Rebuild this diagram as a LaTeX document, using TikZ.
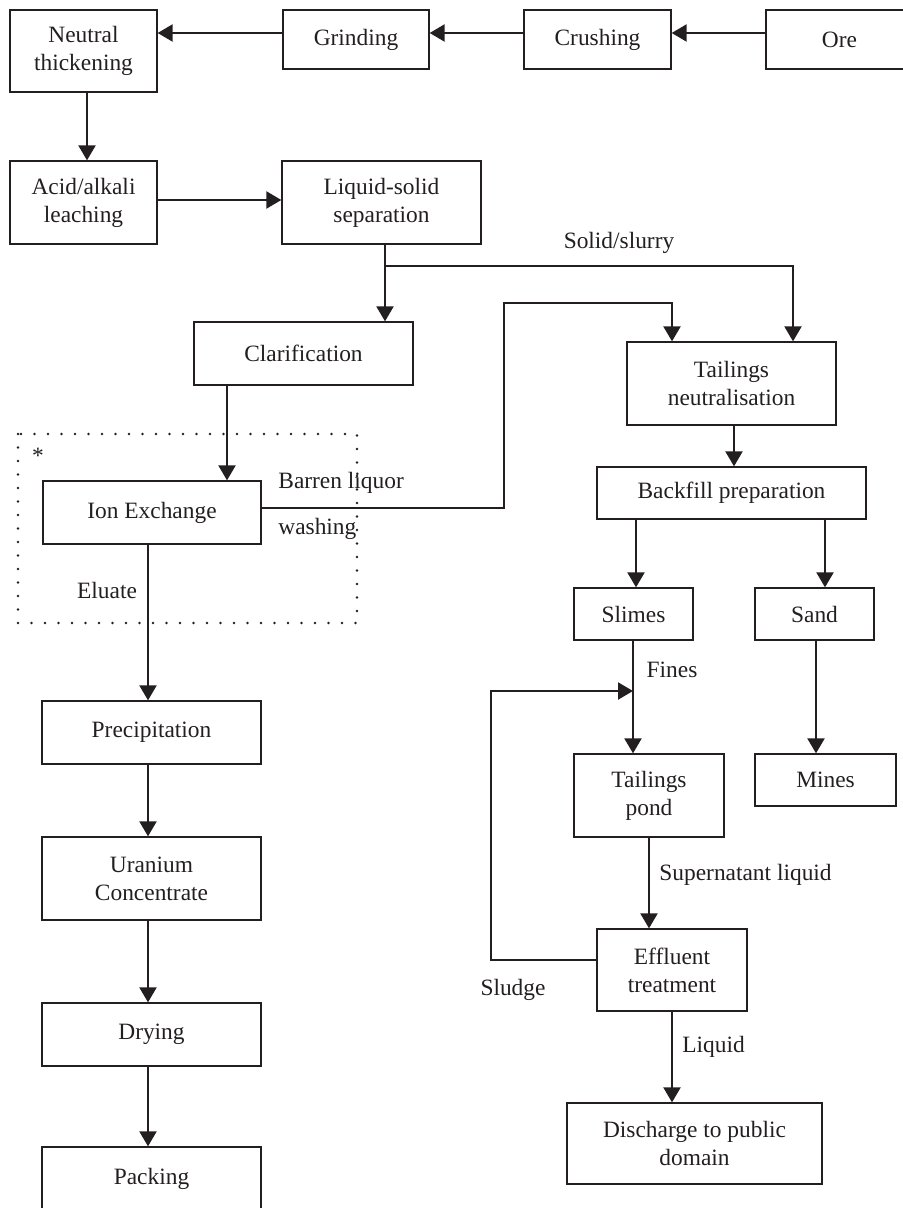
\documentclass[tikz,border=0pt]{standalone}
\usepackage{fontspec}
\setmainfont{Liberation Serif}
\usetikzlibrary{arrows.meta}
\definecolor{ink}{RGB}{35,31,32}
\begin{document}
\begin{tikzpicture}[x=0.5pt,y=-0.5pt,
  box/.style={draw=ink, line width=0.65pt, inner sep=0pt, align=center, font=\fontsize{11.7}{14}\selectfont, text=ink},
  wh/.style 2 args={minimum width=#1*0.5pt, minimum height=#2*0.5pt},
  lbl/.style={font=\fontsize{11.7}{14}\selectfont, text=ink, inner sep=0pt},
  arr/.style={draw=ink, line width=1.1pt, -{Triangle[length=7.5pt,width=8.5pt]}},
  dotbox/.style={draw=ink, line width=1.3pt, line cap=round, dash pattern=on 0pt off 6.75pt}
]
\useasboundingbox (0,0) rectangle (903,1208);

\node[box, wh={147}{82}] (NT) at (83.5,51) {Neutral\\thickening};
\node[box, wh={146}{59}] (Grind) at (356,39.5) {Grinding};
\node[box, wh={147}{59}] (Crush) at (597.5,39.5) {Crushing};
\node[box, wh={147}{59}] (Ore) at (839.5,39.5) {Ore};
\node[box, wh={147}{83}] (AA) at (83.5,202.5) {Acid/alkali\\leaching};
\node[box, wh={199}{83}] (LS) at (381.5,202.5) {Liquid-solid\\separation};
\node[box, wh={219}{63}] (Clar) at (303.5,353.5) {Clarification};
\node[box, wh={218}{63}] (IX) at (152,512.5) {Ion Exchange};
\node[box, wh={219}{63}] (Prec) at (151.5,732.5) {Precipitation};
\node[box, wh={219}{83}] (UC) at (151.5,878.5) {Uranium\\Concentrate};
\node[box, wh={219}{63}] (Dry) at (151.5,1034.5) {Drying};
\node[box, wh={219}{63}] (Pack) at (151.5,1178.5) {Packing};
\node[box, wh={209}{83}] (TN) at (731.5,383.5) {Tailings\\neutralisation};
\node[box, wh={269}{52}] (BP) at (731.5,493) {Backfill preparation};
\node[box, wh={119}{52}] (Slim) at (633.5,614) {Slimes};
\node[box, wh={119}{52}] (Sand) at (814.5,614) {Sand};
\node[box, wh={150}{83}] (TP) at (649,795.5) {Tailings\\pond};
\node[box, wh={141}{52}] (Mines) at (825.5,780) {Mines};
\node[box, wh={150}{82}] (ET) at (672,970) {Effluent\\treatment};
\node[box, wh={255}{81}] (DPD) at (694.5,1143.5) {Discharge to public\\domain};

\draw[dotbox] (18,434) rectangle (357,623);
\node[lbl] (star) at (38,456) {*};

\node[lbl] (sslbl) at (619,243) {Solid/slurry};
\node[lbl, anchor=west] (blbl) at (278,483) {Barren liquor};
\node[lbl, anchor=west] (wlbl) at (278,529) {washing};
\node[lbl] (elbl) at (107,590) {Eluate};
\node[lbl] (flbl) at (672,670) {Fines};
\node[lbl, anchor=west] (snlbl) at (659,875) {Supernatant liquid};
\node[lbl] (sllbl) at (513,990) {Sludge};
\node[lbl, anchor=west] (lqlbl) at (682,1047) {Liquid};

\draw[arr] (Ore.west |- 0,33) -- (Crush.east |- 0,33);
\draw[arr] (Crush.west |- 0,33) -- (Grind.east |- 0,33);
\draw[arr] (Grind.west |- 0,33) -- (NT.east |- 0,33);
\draw[arr] (NT.south -| 87,0) -- (AA.north -| 87,0);
\draw[arr] (AA.east |- 0,200) -- (LS.west |- 0,200);
\coordinate (J1) at (385,266);
\draw[arr] (LS.south -| J1) -- (Clar.north -| J1);
\draw[arr] (J1) -| (TN.north -| 793,0);
\draw[arr] (Clar.south -| 227,0) -- (IX.north -| 227,0);
\draw[arr] (IX.south -| 148,0) -- (Prec.north -| 148,0);
\coordinate (B1) at (504,303);
\draw[arr] (IX.east |- 0,508) -| (B1) -| (TN.north -| 672,0);
\draw[arr] (Prec.south -| 148,0) -- (UC.north -| 148,0);
\draw[arr] (UC.south -| 148,0) -- (Dry.north -| 148,0);
\draw[arr] (Dry.south -| 148,0) -- (Pack.north -| 148,0);
\draw[arr] (TN.south -| 734,0) -- (BP.north -| 734,0);
\draw[arr] (BP.south -| 636,0) -- (Slim.north -| 636,0);
\draw[arr] (BP.south -| 825,0) -- (Sand.north -| 825,0);
\draw[arr] (Slim.south -| 633,0) -- (TP.north -| 633,0);
\draw[arr] (Sand.south -| 816,0) -- (Mines.north -| 816,0);
\draw[arr] (TP.south -| 649,0) -- (ET.north -| 649,0);
\draw[arr] (ET.south -| 672,0) -- (DPD.north -| 672,0);
\coordinate (S1) at (491,691);
\coordinate (S2) at (633,691);
\draw[arr] (ET.west |- 0,960) -| (S1) -- (S2);
\end{tikzpicture}
\end{document}
